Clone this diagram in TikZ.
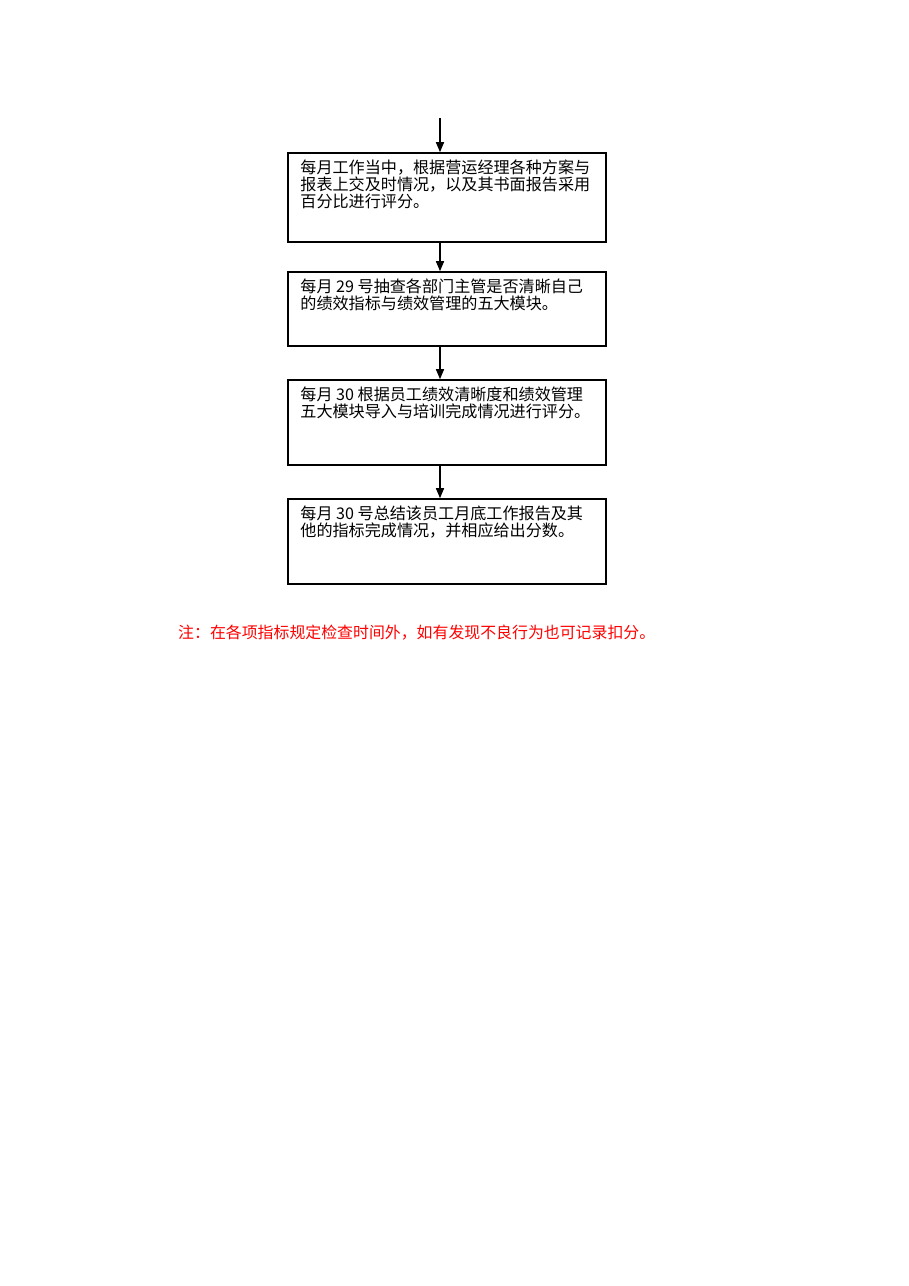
\documentclass[tikz,border=0pt]{standalone}
\usepackage{fontspec}
\newfontfamily\cjk{Noto Sans CJK SC}
\usetikzlibrary{arrows.meta}
\begin{document}
\begin{tikzpicture}[x=1pt,y=-1pt,
  flowbox/.style={draw=black,line width=1.6pt,rectangle,minimum width=318pt,inner sep=0pt},
  boxtext/.style={anchor=base west,inner sep=0pt,align=left,font=\cjk\fontsize{16.1pt}{17pt}\selectfont},
  arr/.style={line width=1.4pt,-{Triangle[length=10pt,width=8pt]}}]
\useasboundingbox[fill=white] (0,0) rectangle (909,1286);
\node[flowbox,minimum height=89pt] (b1) at (447,197.5) {};
\node[flowbox,minimum height=74pt] (b2) at (447,309) {};
\node[flowbox,minimum height=85pt] (b3) at (447,422.5) {};
\node[flowbox,minimum height=85pt] (b4) at (447,541.5) {};
\coordinate (top) at (440,118);
% base anchor of a multi-line node is the baseline of its last line
\node[boxtext] (t1) at ([xshift=13pt,yshift=-55pt]b1.north west) {每月工作当中，根据营运经理各种方案与\\报表上交及时情况，以及其书面报告采用\\百分比进行评分。};
\node[boxtext] (t2) at ([xshift=13pt,yshift=-38pt]b2.north west) {每月 29 号抽查各部门主管是否清晰自己\\的绩效指标与绩效管理的五大模块。};
\node[boxtext] (t3) at ([xshift=13pt,yshift=-38pt]b3.north west) {每月 30 根据员工绩效清晰度和绩效管理\\五大模块导入与培训完成情况进行评分。};
\node[boxtext] (t4) at ([xshift=13pt,yshift=-38pt]b4.north west) {每月 30 号总结该员工月底工作报告及其\\他的指标完成情况，并相应给出分数。};
\node[anchor=base west,inner sep=0pt,text=red,font=\cjk\fontsize{15.9pt}{17pt}\selectfont] (note) at (178,638) {注：在各项指标规定检查时间外，如有发现不良行为也可记录扣分。};
\draw[arr] (top) -- (b1.north -| top);
\draw[arr] (b1.south -| top) -- (b2.north -| top);
\draw[arr] (b2.south -| top) -- (b3.north -| top);
\draw[arr] (b3.south -| top) -- (b4.north -| top);
\end{tikzpicture}
\end{document}
